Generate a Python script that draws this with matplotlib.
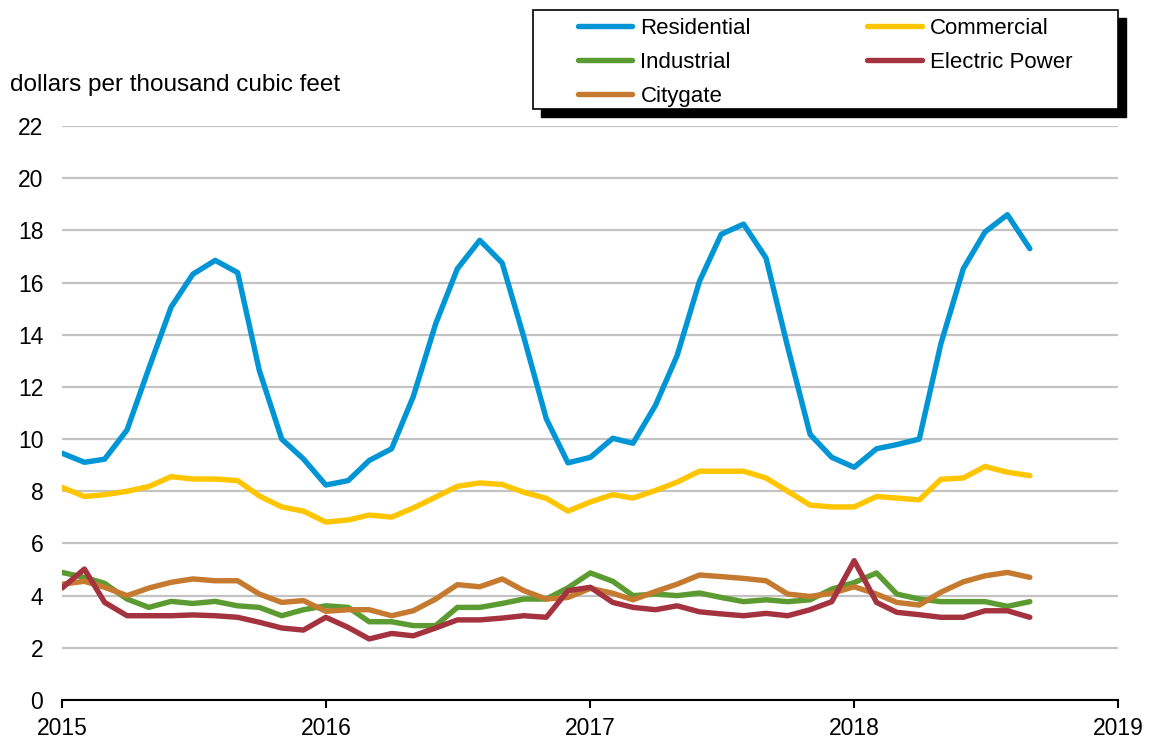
import numpy as np
import pandas as pd
import matplotlib
matplotlib.use("Agg")
import matplotlib.pyplot as plt
import matplotlib.dates as mdates
from matplotlib.patches import Rectangle

plt.rcParams['font.family'] = ['Liberation Sans', 'DejaVu Sans']

# monthly prices, Jan 2015 - Sep 2018 (dollars per thousand cubic feet)
months = pd.date_range("2015-01-01", periods=45, freq="MS")

residential = [9.46, 9.11, 9.23, 10.35, 12.7, 15.06, 16.32, 16.85, 16.38, 12.63, 10.0, 9.24,
               8.24, 8.41, 9.18, 9.63, 11.63, 14.42, 16.53, 17.62, 16.75, 13.9, 10.78, 9.09,
               9.3, 10.03, 9.84, 11.29, 13.2, 16.05, 17.85, 18.24, 16.94, 13.53, 10.18, 9.3,
               8.92, 9.63, 9.79, 10.0, 13.66, 16.53, 17.94, 18.6, 17.3]
commercial = [8.15, 7.8, 7.87, 8.0, 8.18, 8.56, 8.47, 8.47, 8.41, 7.82, 7.4, 7.24,
              6.82, 6.9, 7.09, 7.01, 7.36, 7.78, 8.19, 8.32, 8.26, 7.96, 7.73, 7.24,
              7.59, 7.87, 7.74, 8.03, 8.35, 8.77, 8.77, 8.77, 8.51, 8.0, 7.47, 7.4,
              7.4, 7.8, 7.74, 7.67, 8.46, 8.51, 8.95, 8.73, 8.6]
industrial = [4.89, 4.7, 4.47, 3.87, 3.55, 3.78, 3.7, 3.78, 3.61, 3.55, 3.23, 3.46,
              3.61, 3.55, 3.0, 3.0, 2.85, 2.85, 3.55, 3.55, 3.7, 3.87, 3.87, 4.3,
              4.87, 4.55, 4.0, 4.06, 4.0, 4.1, 3.93, 3.77, 3.84, 3.77, 3.84, 4.25,
              4.5, 4.87, 4.06, 3.87, 3.77, 3.77, 3.77, 3.59, 3.77]
electric = [4.29, 5.02, 3.74, 3.23, 3.23, 3.23, 3.26, 3.23, 3.17, 2.98, 2.76, 2.68,
            3.17, 2.78, 2.34, 2.55, 2.46, 2.76, 3.07, 3.07, 3.14, 3.23, 3.17, 4.19,
            4.32, 3.74, 3.55, 3.46, 3.61, 3.38, 3.3, 3.23, 3.32, 3.23, 3.46, 3.77,
            5.34, 3.74, 3.36, 3.27, 3.17, 3.17, 3.42, 3.42, 3.17]
citygate = [4.44, 4.55, 4.32, 4.0, 4.29, 4.51, 4.64, 4.57, 4.57, 4.06, 3.74, 3.81,
            3.4, 3.46, 3.46, 3.23, 3.42, 3.87, 4.42, 4.34, 4.64, 4.19, 3.87, 3.93,
            4.28, 4.09, 3.84, 4.16, 4.44, 4.79, 4.73, 4.66, 4.57, 4.06, 3.97, 4.09,
            4.34, 4.06, 3.74, 3.64, 4.13, 4.53, 4.76, 4.89, 4.7]

# legend order is column-wise for ncol=2
series = [
    ("Residential", residential, "#0096d6"),
    ("Industrial", industrial, "#5c9b32"),
    ("Citygate", citygate, "#c57a2f"),
    ("Commercial", commercial, "#ffc600"),
    ("Electric Power", electric, "#a5333f"),
]

W, H = 1150, 742
fig = plt.figure(figsize=(W / 100, H / 100), dpi=100)
ax = fig.add_axes([62 / W, 42 / H, 1056 / W, 574 / H])

handles = []
for name, vals, col in series:
    h, = ax.plot(months, vals, color=col, lw=3.9, solid_capstyle="round",
                 solid_joinstyle="round", label=name, zorder=3)
    handles.append(h)

ax.set_ylim(0, 22)
ax.set_yticks(range(0, 23, 2))
ax.set_xlim(pd.Timestamp("2015-01-01"), pd.Timestamp("2019-01-01"))
ax.xaxis.set_major_locator(mdates.YearLocator())
ax.xaxis.set_major_formatter(mdates.DateFormatter("%Y"))

ax.grid(axis="y", color="#c3c3c3", lw=1.6, zorder=1)
# small breaks in the gridlines at each year
for yr in ["2016", "2017", "2018"]:
    ax.axvline(pd.Timestamp(yr + "-01-01"), color="white", lw=2.2, zorder=1.5)

for s in ["left", "right", "top"]:
    ax.spines[s].set_visible(False)
ax.spines["bottom"].set_linewidth(1.5)
ax.spines["bottom"].set_zorder(4)
ax.tick_params(axis="y", length=0, labelsize=16.5, pad=13.5)
ax.tick_params(axis="x", length=5.5, width=1.5, direction="out", labelsize=16.5, pad=7)

fig.text(10 / W, 1 - 85 / H, "dollars per thousand cubic feet", fontsize=17.5,
         ha="left", va="center")

# legend box with hard black drop shadow
bx0, by0, bx1, by1 = 533, 10, 1118, 109
fig.patches.append(Rectangle(((bx0 + 8) / W, 1 - (by1 + 8) / H), (bx1 - bx0) / W, (by1 - by0) / H,
                             transform=fig.transFigure, facecolor="black", edgecolor="black", zorder=5))
fig.patches.append(Rectangle((bx0 / W, 1 - by1 / H), (bx1 - bx0) / W, (by1 - by0) / H,
                             transform=fig.transFigure, facecolor="white", edgecolor="black",
                             lw=1.2, zorder=6))

leg = fig.legend(handles, [n for n, _, _ in series], ncol=2, loc="upper left",
                 bbox_to_anchor=(578 / W, 1 - 18 / H, (1072 - 578) / W, 0.0),
                 mode="expand", fontsize=16, frameon=False, handlelength=2.45,
                 handletextpad=0.36, labelspacing=0.58, borderpad=0, borderaxespad=0)
leg.set_zorder(7)

fig.savefig("out.png", dpi=100)
